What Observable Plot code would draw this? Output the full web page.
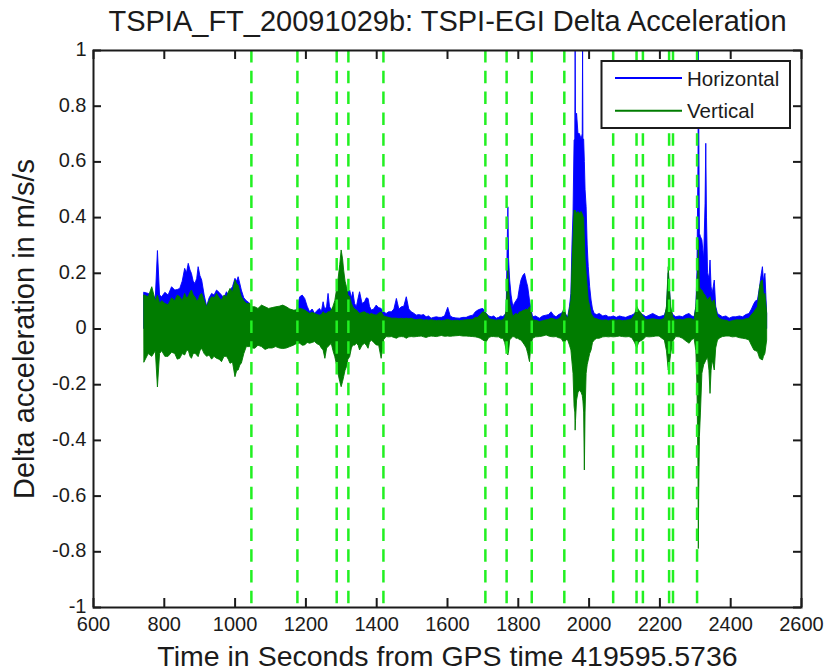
<!DOCTYPE html>
<html>
<head>
<meta charset="utf-8">
<style>
  html, body { margin: 0; padding: 0; background: #fff; }
  #chart { position: relative; width: 827px; height: 671px; }
</style>
<script src="https://cdn.jsdelivr.net/npm/d3@7"></script>
<script src="https://cdn.jsdelivr.net/npm/@observablehq/plot@0.6"></script>
</head>
<body>
<div id="chart"></div>
<script>
// ---- Data (envelope of the dense traces) ----
const titleText = "TSPIA_FT_20091029b: TSPI-EGI Delta Acceleration";
const xLabelText = "Time in Seconds from GPS time 419595.5736";
const yLabelText = "Delta acceleration in m/s/s";
const seriesNames = ["Horizontal", "Vertical"];

const xTicks = [600, 800, 1000, 1200, 1400, 1600, 1800, 2000, 2200, 2400, 2600];
const yTicks = [-1, -0.8, -0.6, -0.4, -0.2, 0, 0.2, 0.4, 0.6, 0.8, 1];

// event markers (green dashed lines), seconds
const eventTimes = [1046, 1176, 1287, 1320, 1419, 1707, 1767, 1838, 1930, 2068, 2134, 2152, 2226, 2237, 2305];

// time stamps (s)
const time = [
  744,756,766,776,782,788,794,803,812,822,
  831,838,845,852,859,864,869,874,878,883,
  888,893,897,902,907,914,921,928,935,942,
  949,956,963,970,977,982,987,994,1001,1006,
  1010,1015,1019,1026,1033,1043,1050,1057,1066,1076,
  1086,1096,1106,1116,1126,1136,1146,1156,1166,1176,
  1184,1191,1198,1205,1212,1219,1226,1233,1240,1245,
  1250,1255,1260,1264,1268,1273,1278,1283,1288,1292,
  1297,1301,1305,1308,1312,1316,1320,1325,1330,1334,
  1339,1344,1349,1353,1360,1367,1372,1377,1381,1386,
  1393,1400,1407,1414,1421,1428,1435,1443,1450,1457,
  1464,1471,1478,1485,1492,1499,1506,1513,1520,1527,
  1534,1541,1548,1555,1562,1570,1577,1584,1593,1602,
  1609,1616,1625,1635,1645,1654,1663,1673,1680,1687,
  1694,1701,1706,1711,1718,1725,1732,1739,1746,1752,
  1758,1763,1767,1770,1772,1774,1777,1781,1786,1790,
  1795,1800,1805,1809,1814,1819,1824,1828,1833,1837,
  1842,1850,1861,1870,1880,1887,1894,1901,1908,1915,
  1922,1927,1931,1936,1941,1946,1950,1953,1956,1959,
  1961,1962,1963,1966,1970,1974,1979,1982,1983,1984,
  1986,1988,1990,1993,1996,1999,2003,2007,2011,2016,
  2023,2030,2040,2049,2056,2063,2070,2078,2087,2096,
  2105,2114,2122,2130,2136,2141,2146,2153,2162,2171,
  2181,2190,2199,2207,2214,2220,2225,2228,2232,2238,
  2246,2256,2265,2275,2284,2291,2298,2303,2306,2309,
  2310,2311,2313,2316,2320,2325,2329,2331,2333,2336,
  2340,2343,2346,2349,2352,2355,2359,2364,2371,2378,
  2388,2397,2406,2416,2426,2435,2444,2453,2460,2467,
  2472,2477,2483,2487,2491,2494,2498,2503
];

// Horizontal: upper envelope (m/s/s)
const horizontalHigh = [
  .13,.126,.12,.11,.28,.12,.114,.13,.12,.15,
  .138,.14,.144,.17,.216,.20,.234,.21,.198,.17,
  .162,.18,.222,.19,.174,.12,.08,.11,.126,.12,
  .138,.13,.12,.11,.132,.12,.138,.15,.18,.17,
  .186,.16,.138,.11,.10,.09,.072,.07,.066,.078,
  .072,.068,.07,.072,.075,.08,.072,.066,.06,.07,
  .114,.12,.108,.08,.06,.07,.054,.065,.072,.06,
  .096,.066,.08,.126,.08,.066,.07,.072,.09,.12,
  .18,.20,.18,.16,.15,.14,.13,.138,.11,.132,
  .09,.078,.11,.132,.09,.096,.11,.108,.08,.066,
  .07,.084,.075,.072,.06,.054,.06,.06,.07,.108,
  .07,.078,.08,.114,.07,.06,.055,.048,.05,.048,
  .05,.042,.045,.037,.04,.042,.04,.04,.045,.076,
  .045,.04,.038,.037,.04,.04,.045,.048,.06,.066,
  .07,.072,.065,.054,.045,.042,.045,.037,.04,.045,
  .042,.05,.054,.30,.437,.25,.174,.12,.078,.09,
  .10,.11,.15,.174,.19,.198,.17,.15,.102,.07,
  .042,.045,.037,.045,.048,.05,.06,.048,.042,.05,
  .054,.06,.06,.05,.042,.08,.126,.30,.415,.677,
  .68,1.0,.72,.773,.70,.70,.68,.70,1.0,.68,
  .68,.60,.50,.437,.30,.222,.15,.102,.07,.054,
  .05,.054,.045,.048,.042,.042,.045,.04,.045,.042,
  .04,.045,.048,.054,.066,.06,.054,.05,.042,.048,
  .054,.048,.042,.045,.048,.07,.20,.15,.066,.05,
  .042,.045,.042,.05,.054,.045,.042,.078,.20,.60,
  1.0,.80,.342,.33,.318,.25,.45,.665,.40,.20,
  .18,.246,.15,.126,.15,.174,.08,.054,.048,.042,
  .045,.037,.042,.042,.045,.042,.05,.054,.07,.09,
  .10,.102,.15,.19,.222,.17,.198,.054
];

// Vertical: upper envelope (m/s/s)
const verticalHigh = [
  .12,.114,.15,.10,.12,.09,.10,.09,.085,.11,
  .10,.12,.114,.10,.126,.11,.114,.13,.138,.12,
  .114,.10,.102,.12,.126,.10,.078,.10,.114,.11,
  .126,.11,.102,.12,.114,.13,.144,.13,.174,.16,
  .156,.13,.114,.10,.09,.09,.078,.078,.072,.084,
  .078,.072,.075,.078,.08,.084,.078,.07,.066,.066,
  .072,.07,.066,.06,.054,.058,.054,.05,.048,.05,
  .06,.054,.055,.06,.06,.066,.08,.10,.14,.174,
  .23,.282,.25,.21,.17,.15,.12,.114,.09,.078,
  .07,.066,.06,.054,.058,.06,.055,.054,.05,.054,
  .05,.048,.055,.06,.045,.042,.04,.037,.037,.037,
  .035,.037,.035,.037,.035,.037,.033,.031,.033,.033,
  .03,.031,.03,.031,.03,.028,.03,.028,.03,.033,
  .03,.028,.03,.028,.03,.031,.032,.033,.04,.04,
  .05,.06,.058,.054,.035,.033,.031,.03,.031,.03,
  .031,.04,.066,.15,.21,.15,.09,.07,.042,.05,
  .054,.05,.06,.06,.065,.066,.07,.066,.078,.06,
  .031,.03,.025,.028,.031,.033,.037,.035,.031,.035,
  .042,.06,.078,.045,.037,.07,.102,.22,.32,.425,
  .42,.425,.42,.414,.42,.414,.42,.41,.41,.40,
  .40,.318,.25,.198,.15,.102,.08,.054,.045,.037,
  .035,.031,.03,.031,.028,.031,.033,.03,.031,.028,
  .03,.031,.035,.05,.08,.066,.06,.045,.031,.033,
  .035,.033,.031,.033,.037,.08,.222,.15,.078,.04,
  .031,.033,.031,.035,.037,.035,.031,.08,.15,.25,
  .318,.25,.15,.14,.138,.126,.12,.114,.11,.102,
  .11,.114,.10,.09,.10,.102,.07,.042,.035,.031,
  .03,.025,.028,.031,.031,.031,.035,.037,.05,.06,
  .07,.078,.15,.17,.174,.12,.126,.054
];

// Vertical: lower envelope (m/s/s)
const verticalLow = [
  -.12,-.09,-.10,-.08,-.21,-.09,-.08,-.10,-.10,-.085,
  -.09,-.11,-.107,-.09,-.095,-.08,-.077,-.10,-.107,-.09,
  -.089,-.095,-.101,-.08,-.071,-.09,-.10,-.095,-.11,-.10,
  -.107,-.11,-.119,-.10,-.10,-.11,-.125,-.12,-.173,-.15,
  -.149,-.13,-.125,-.09,-.065,-.065,-.07,-.071,-.06,-.065,
  -.075,-.07,-.07,-.065,-.07,-.072,-.07,-.065,-.06,-.053,
  -.053,-.06,-.059,-.05,-.053,-.05,-.047,-.055,-.059,-.07,
  -.077,-.107,-.07,-.065,-.06,-.053,-.08,-.101,-.13,-.161,
  -.19,-.209,-.19,-.173,-.15,-.137,-.11,-.101,-.07,-.059,
  -.06,-.053,-.06,-.077,-.06,-.053,-.06,-.071,-.05,-.041,
  -.05,-.059,-.06,-.107,-.04,-.029,-.03,-.029,-.032,-.035,
  -.03,-.029,-.03,-.035,-.03,-.029,-.03,-.029,-.028,-.027,
  -.03,-.032,-.029,-.027,-.028,-.029,-.027,-.025,-.028,-.027,
  -.028,-.027,-.026,-.025,-.027,-.027,-.028,-.029,-.03,-.032,
  -.035,-.041,-.045,-.047,-.032,-.029,-.029,-.03,-.03,-.035,
  -.035,-.05,-.077,-.09,-.095,-.08,-.041,-.035,-.029,-.03,
  -.035,-.035,-.04,-.041,-.05,-.059,-.07,-.089,-.119,-.06,
  -.035,-.03,-.029,-.027,-.023,-.027,-.029,-.03,-.029,-.033,
  -.035,-.045,-.053,-.04,-.041,-.06,-.077,-.12,-.161,-.28,
  -.30,-.365,-.33,-.257,-.23,-.221,-.23,-.24,-.25,-.26,
  -.30,-.508,-.30,-.161,-.13,-.113,-.09,-.077,-.05,-.041,
  -.035,-.035,-.03,-.029,-.03,-.029,-.03,-.029,-.027,-.029,
  -.03,-.029,-.033,-.05,-.07,-.05,-.045,-.04,-.029,-.03,
  -.029,-.027,-.027,-.035,-.041,-.08,-.149,-.13,-.089,-.045,
  -.029,-.03,-.035,-.045,-.053,-.04,-.035,-.08,-.20,-.50,
  -.79,-.60,-.388,-.30,-.161,-.13,-.12,-.113,-.11,-.101,
  -.15,-.233,-.15,-.113,-.13,-.149,-.07,-.041,-.033,-.029,
  -.027,-.027,-.03,-.029,-.033,-.035,-.037,-.041,-.06,-.077,
  -.08,-.083,-.107,-.11,-.113,-.10,-.089,-.041
];

if (![horizontalHigh, verticalHigh, verticalLow].every(a => a.length === time.length)) {
  throw new Error("length mismatch " + [time.length, horizontalHigh.length, verticalHigh.length, verticalLow.length]);
}

const data = time.map((t, i) => ({t, hHi: horizontalHigh[i], vHi: verticalHigh[i], vLo: verticalLow[i]}));

// ---- Styles ----
const FONT = "'Liberation Sans', Arial, Helvetica, sans-serif";
const BLUE = "#0000ff";
const GREEN = "#007c00";
const LIME = "#22f022";
const INK = "#1b1b1b";

const W = 827, H = 671;
const mL = 93, mR = 26, mT = 50, mB = 64;
const fw = W - mL - mR, fh = H - mT - mB;

const svg = Plot.plot({
  width: W,
  height: H,
  marginLeft: mL,
  marginRight: mR,
  marginTop: mT,
  marginBottom: mB,
  style: {fontFamily: FONT, background: "#fff", color: INK, overflow: "visible"},
  x: {domain: [600, 2600]},
  y: {domain: [-1, 1]},
  marks: [
    Plot.areaY(data, {x: "t", y1: 0, y2: "hHi", fill: BLUE, stroke: BLUE, strokeWidth: 0.9, clip: true}),
    Plot.areaY(data, {x: "t", y1: "vLo", y2: "vHi", fill: GREEN, stroke: GREEN, strokeWidth: 0.9, clip: true}),
    Plot.ruleX(eventTimes, {x: d => d, stroke: LIME, strokeWidth: 2.5, strokeDasharray: "12.5,8.3"}),
    Plot.frame({stroke: INK, strokeWidth: 2}),
    Plot.tickX(xTicks, {x: d => d, insetTop: fh - 9, stroke: INK, strokeWidth: 2}),
    Plot.tickX(xTicks, {x: d => d, insetBottom: fh - 9, stroke: INK, strokeWidth: 2}),
    Plot.tickY(yTicks, {y: d => d, insetRight: fw - 8, stroke: INK, strokeWidth: 2}),
    Plot.tickY(yTicks, {y: d => d, insetLeft: fw - 8, stroke: INK, strokeWidth: 2}),
    Plot.axisX(xTicks, {anchor: "bottom", tickSize: 0, tickPadding: 9, fontSize: 20, label: null, tickFormat: d => String(d), fill: INK}),
    Plot.axisY(yTicks, {anchor: "left", tickSize: 0, tickPadding: 7, dy: -1, fontSize: 20, label: null, tickFormat: d => String(Math.round(d * 10) / 10), fill: INK}),
    Plot.text([titleText], {frameAnchor: "top", dy: -20, lineAnchor: "bottom", textAnchor: "middle", fontSize: 29, fill: INK}),
    Plot.text([xLabelText], {frameAnchor: "bottom", dy: 58, lineAnchor: "bottom", textAnchor: "middle", fontSize: 28.5, fill: INK}),
    Plot.text([yLabelText], {frameAnchor: "left", dx: -60, rotate: -90, lineAnchor: "bottom", textAnchor: "middle", fontSize: 29, fill: INK})
  ]
});

// ---- Legend (MATLAB-style box inside the axes) ----
const s = d3.select(svg);
const lg = s.append("g").attr("font-family", FONT).attr("text-anchor", "start");
lg.append("rect").attr("x", 601.5).attr("y", 61).attr("width", 188.5).attr("height", 67)
  .attr("fill", "#fff").attr("stroke", INK).attr("stroke-width", 2);
const legendColors = [BLUE, GREEN];
seriesNames.forEach((name, i) => {
  const yy = 78 + i * 32.7;
  lg.append("line").attr("x1", 615).attr("x2", 682).attr("y1", yy).attr("y2", yy)
    .attr("stroke", legendColors[i]).attr("stroke-width", 2);
  lg.append("text").attr("x", 687).attr("y", yy + 7.5).attr("font-size", 20.5)
    .attr("text-anchor", "start").attr("fill", INK).text(name);
});

document.getElementById("chart").appendChild(svg);
</script>
</body>
</html>
